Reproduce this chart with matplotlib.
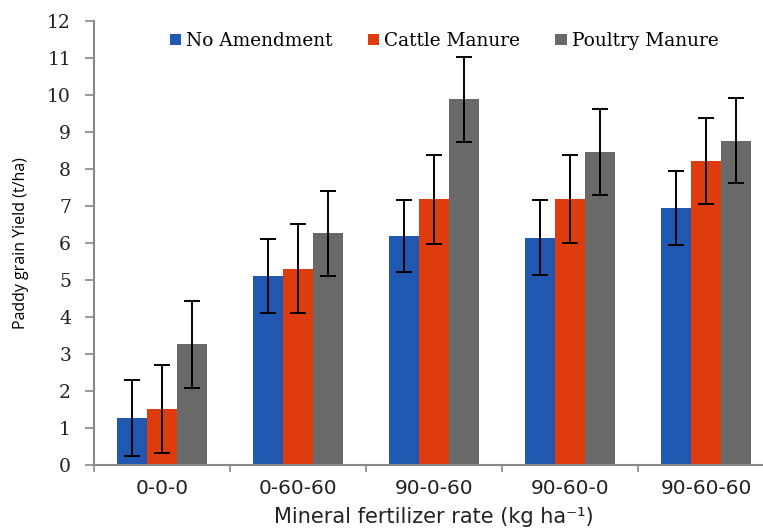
import matplotlib
matplotlib.use("Agg")
import matplotlib.pyplot as plt
import numpy as np
from matplotlib.patches import Patch

categories = ["0-0-0", "0-60-60", "90-0-60", "90-60-0", "90-60-60"]
series_names = ["No Amendment", "Cattle Manure", "Poultry Manure"]
no_amendment = [1.28, 5.12, 6.19, 6.15, 6.95]
cattle_manure = [1.52, 5.31, 7.19, 7.19, 8.22]
poultry_manure = [3.27, 6.27, 9.89, 8.46, 8.77]
no_amendment_err = [1.02, 1.0, 0.98, 1.02, 1.0]
cattle_manure_err = [1.18, 1.2, 1.2, 1.18, 1.17]
poultry_manure_err = [1.18, 1.15, 1.15, 1.17, 1.15]
colors = ["#2158B2", "#DE3B0F", "#696969"]

values = [no_amendment, cattle_manure, poultry_manure]
errors = [no_amendment_err, cattle_manure_err, poultry_manure_err]

fig = plt.figure(figsize=(7.63, 5.32), dpi=100)
ax = fig.add_axes([94/763, (532-465.3)/532, 680/763, 444.3/532])

x = np.arange(len(categories))
w = 0.221
for i, (vals, errs, c) in enumerate(zip(values, errors, colors)):
    ax.bar(x + (i-1)*w, vals, width=w, color=c, zorder=2)
    ax.errorbar(x + (i-1)*w, vals, yerr=errs, fmt='none', ecolor='black',
                elinewidth=1.4, capsize=5.5, capthick=1.4, zorder=3)

ax.set_xlim(-0.5, len(categories)-0.5)
ax.set_ylim(0, 12)
ax.set_yticks(range(0, 13))
ax.tick_params(axis='y', direction='out', length=6.5, width=1.2, color='#888888',
               labelsize=13.5, pad=10)
ax.set_xticks(np.arange(-0.5, len(categories)+0.5, 1))
ax.set_xticklabels([])
ax.set_xticks(x, minor=True)
ax.set_xticklabels(categories, minor=True, fontsize=14.5)
ax.tick_params(axis='x', which='major', direction='out', length=5, width=1.2, color='#888888')
ax.tick_params(axis='x', which='minor', length=0, pad=10)
for lab in ax.get_yticklabels():
    lab.set_family('DejaVu Serif')
    lab.set_color('#222222')
for lab in ax.get_xticklabels(minor=True):
    lab.set_family('DejaVu Sans')
    lab.set_color('#222222')

for s in ['top', 'right']:
    ax.spines[s].set_visible(False)
for s in ['left', 'bottom']:
    ax.spines[s].set_color('#888888')
    ax.spines[s].set_linewidth(1.5)

ax.set_ylabel("Paddy grain Yield (t/ha)", fontsize=11.5, family='Open Sans', labelpad=13)
ax.set_xlabel("Mineral fertilizer rate (kg ha⁻¹)", fontsize=15, family='DejaVu Sans',
              labelpad=6, color='#222222')

handles = [Patch(facecolor=c, edgecolor='none') for c in colors]
leg = ax.legend(handles, series_names, loc='center', bbox_to_anchor=(0.515, 0.955),
                ncol=3, frameon=False, handlelength=0.6, handleheight=0.6,
                handletextpad=0.3, columnspacing=1.9,
                prop={'family': 'DejaVu Serif', 'size': 13.3})

fig.savefig("out.png", dpi=100)
